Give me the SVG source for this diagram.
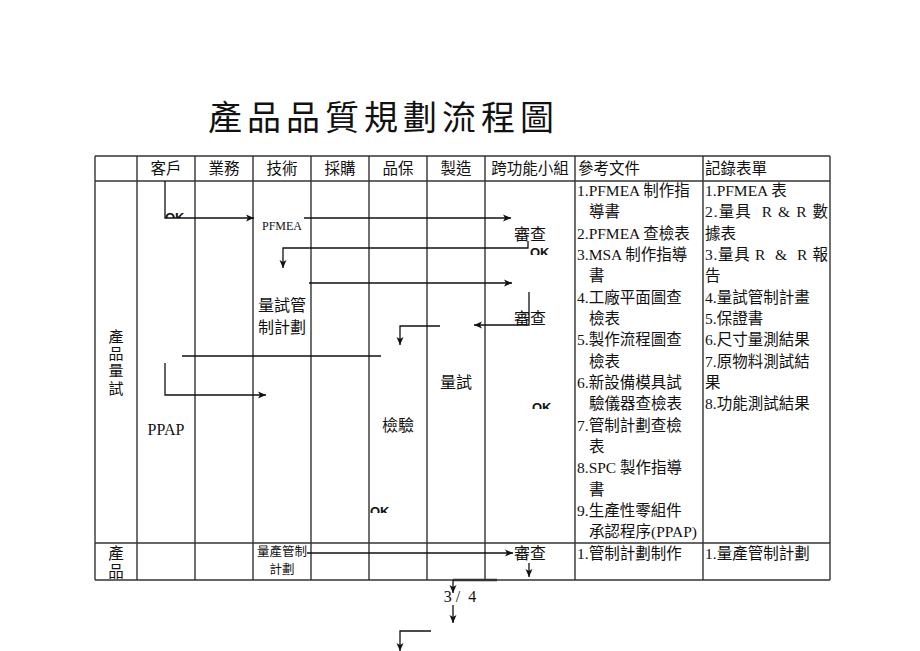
<svg xmlns="http://www.w3.org/2000/svg" width="920" height="651" viewBox="0 0 920 651">
<defs>
<style>
text{font-family:"Liberation Serif","Noto Sans CJK TC",serif;fill:#111}
.t{font-size:15.5px}
.h{font-size:15.5px;text-anchor:middle}
.c{font-size:16px;text-anchor:middle}
.v{font-size:15px;text-anchor:middle}
.s{font-size:12.5px;text-anchor:middle}
.ok{font-family:"Liberation Sans",sans-serif;font-weight:bold;font-size:13px}
.grid line{stroke:#333;stroke-width:1.4}
.conn path{fill:none;stroke:#111;stroke-width:1.3}
</style>
<marker id="ar" markerUnits="userSpaceOnUse" markerWidth="9" markerHeight="8" refX="8" refY="4" orient="auto">
<path d="M0,0.5 L8,4 L0,7.5 L2,4 Z" fill="#111"/>
</marker>
<clipPath id="k1"><rect x="160" y="205" width="30" height="13"/></clipPath>
<clipPath id="k2"><rect x="526" y="248" width="30" height="7"/></clipPath>
<clipPath id="k3"><rect x="528" y="398" width="30" height="11"/></clipPath>
<clipPath id="k4"><rect x="366" y="502" width="30" height="11"/></clipPath>
</defs>
<rect width="920" height="651" fill="#fff"/>
<g id="title"><text x="208" y="130" style="font-size:34px;letter-spacing:5px">產品品質規劃流程圖</text></g>
<g id="table" class="grid">
<line x1="95" y1="156" x2="830" y2="156"/>
<line x1="95" y1="181" x2="830" y2="181"/>
<line x1="95" y1="543" x2="830" y2="543"/>
<line x1="95" y1="580" x2="830" y2="580"/>
<line x1="95" y1="156" x2="95" y2="580"/>
<line x1="137" y1="156" x2="137" y2="580"/>
<line x1="195" y1="156" x2="195" y2="580"/>
<line x1="253" y1="156" x2="253" y2="580"/>
<line x1="311" y1="156" x2="311" y2="580"/>
<line x1="369" y1="156" x2="369" y2="580"/>
<line x1="427" y1="156" x2="427" y2="580"/>
<line x1="485" y1="156" x2="485" y2="580"/>
<line x1="575" y1="156" x2="575" y2="580"/>
<line x1="703" y1="156" x2="703" y2="580"/>
<line x1="830" y1="156" x2="830" y2="580"/>
</g>
<g id="headers">
<text class="h" x="166" y="174">客戶</text>
<text class="h" x="224" y="174">業務</text>
<text class="h" x="282" y="174">技術</text>
<text class="h" x="340" y="174">採購</text>
<text class="h" x="398" y="174">品保</text>
<text class="h" x="456" y="174">製造</text>
<text class="h" x="530" y="174">跨功能小組</text>
<text class="t" x="578" y="174">參考文件</text>
<text class="t" x="705" y="174">記錄表單</text>
</g>
<g id="row1-label">
<text class="v" x="116" y="342">產</text>
<text class="v" x="116" y="359">品</text>
<text class="v" x="116" y="376">量</text>
<text class="v" x="116" y="394">試</text>
</g>
<g id="row2-label">
<text class="h" x="116" y="559">產</text>
<text class="h" x="116" y="577">品</text>
</g>
<g id="ref-docs" class="t">
<text x="577" y="196">1.PFMEA 制作指</text>
<text x="589" y="217">導書</text>
<text x="577" y="239">2.PFMEA 查檢表</text>
<text x="577" y="260">3.MSA 制作指導</text>
<text x="589" y="281">書</text>
<text x="577" y="303">4.工廠平面圖查</text>
<text x="589" y="324">檢表</text>
<text x="577" y="345">5.製作流程圖查</text>
<text x="589" y="367">檢表</text>
<text x="577" y="388">6.新設備模具試</text>
<text x="589" y="409">驗儀器查檢表</text>
<text x="577" y="431">7.管制計劃查檢</text>
<text x="589" y="452">表</text>
<text x="577" y="473">8.SPC 製作指導</text>
<text x="589" y="495">書</text>
<text x="577" y="516">9.生產性零組件</text>
<text x="589" y="537">承認程序(PPAP)</text>
<text x="577" y="559">1.管制計劃制作</text>
</g>
<g id="records" class="t">
<text x="705" y="196">1.PFMEA 表</text>
<text x="705" y="217" textLength="123" lengthAdjust="spacing" xml:space="preserve">2.量具  R &amp; R 數</text>
<text x="705" y="239">據表</text>
<text x="705" y="260" textLength="123" lengthAdjust="spacing" xml:space="preserve">3.量具 R  &amp;  R 報</text>
<text x="705" y="281">告</text>
<text x="705" y="303">4.量試管制計畫</text>
<text x="705" y="324">5.保證書</text>
<text x="705" y="345">6.尺寸量測結果</text>
<text x="705" y="367">7.原物料測試結</text>
<text x="705" y="388">果</text>
<text x="705" y="409">8.功能測試結果</text>
<text x="705" y="559">1.量產管制計劃</text>
</g>
<g id="n-pfmea"><text class="s" x="282" y="230" style="font-size:12px">PFMEA</text></g>
<g id="n-review1"><text class="c" x="530" y="240">審查</text></g>
<g id="n-plan"><text class="c" x="282" y="311">量試管</text><text class="c" x="282" y="333">制計劃</text></g>
<g id="n-review2"><text class="c" x="530" y="324">審查</text></g>
<g id="n-trial"><text class="c" x="456" y="388">量試</text></g>
<g id="n-inspect"><text class="c" x="398" y="431">檢驗</text></g>
<g id="n-ppap"><text class="c" x="166" y="435">PPAP</text></g>
<g id="n-massplan"><text class="s" x="282" y="556">量產管制</text><text class="s" x="282" y="574">計劃</text></g>
<g id="n-review3"><text class="c" x="530" y="559">審查</text></g>
<g id="page"><text class="c" x="460" y="602" xml:space="preserve">3 /  4</text></g>
<g id="ok-marks">
<text class="ok" x="165" y="222" clip-path="url(#k1)">OK</text>
<text class="ok" x="530" y="257" clip-path="url(#k2)">OK</text>
<text class="ok" x="532" y="412" clip-path="url(#k3)">OK</text>
<text class="ok" x="370" y="516" clip-path="url(#k4)">OK</text>
</g>
<g id="connectors" class="conn">
<path d="M165,181 V218 H254" marker-end="url(#ar)"/>
<path d="M304,218 H511" marker-end="url(#ar)"/>
<path d="M528,241 V248 H283 V268" marker-end="url(#ar)"/>
<path d="M309,283 H512" marker-end="url(#ar)"/>
<path d="M529,292 V325 H474" marker-end="url(#ar)"/>
<path d="M440,326 H400 V345" marker-end="url(#ar)"/>
<path d="M182,356 H381"/>
<path d="M165,363 V395 H266" marker-end="url(#ar)"/>
<path d="M307,553 H513" marker-end="url(#ar)"/>
<path d="M529,563 V577" marker-end="url(#ar)"/>
<path d="M453,580 H497" style="stroke-width:2.6;stroke:#333"/>
<path d="M453,580 V593" marker-end="url(#ar)"/>
<path d="M453,605 V623" marker-end="url(#ar)"/>
<path d="M431,631 H400 V651" marker-end="url(#ar)"/>
</g>
</svg>
